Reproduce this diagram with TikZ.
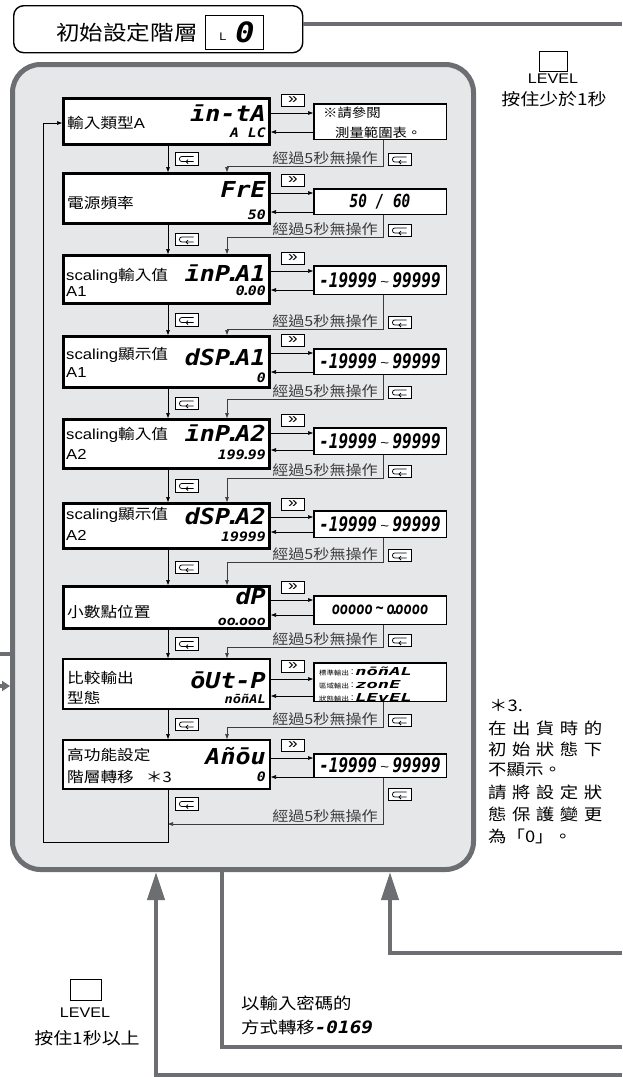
\documentclass[tikz,border=0pt]{standalone}
\usepackage{fontspec}
\usepackage{graphicx}
\setmainfont{Liberation Sans}[FakeStretch=1.15]
\newfontfamily\cjkf{Noto Sans CJK TC}[FakeStretch=1.15]
\newfontfamily\segf{DejaVu Sans Mono}[FakeStretch=1.14]
\newfontfamily\segn{DejaVu Sans Mono}[FakeStretch=0.8]
\usetikzlibrary{arrows.meta}
\definecolor{panelgray}{HTML}{E6E7E8}
\definecolor{dgray}{HTML}{6D6E71}
\definecolor{tgray}{HTML}{3C3C3C}
\newcommand\sg[2]{{\segf\bfseries\itshape\fontsize{#1}{#1}\selectfont #2}}
\newcommand\sgn[2]{{\segn\bfseries\itshape\fontsize{#1}{#1}\selectfont #2}}
\newcommand\cj[1]{{\cjkf #1}}
\newcommand\gp{\hspace{5.5pt}}
\newcommand\dt{\kern-0.22em.\kern-0.22em}
\begin{document}
\begin{tikzpicture}[x=1pt,y=-1pt,
  mainbox/.style={draw=black,fill=white,inner sep=0pt,anchor=north west},
  valbox/.style={draw=black,fill=white,line width=1.5pt,minimum width=132.5pt,inner sep=0pt,anchor=north west},
  keyf/.style={draw=black,fill=white,line width=0.8pt,minimum width=23pt,minimum height=12.5pt,inner sep=0pt,font=\fontsize{15}{12}\selectfont},
  conn/.style={line width=0.7pt,-{Triangle[length=5pt,width=3.6pt]}},
  tconn/.style={draw=tgray,line width=0.7pt,-{Triangle[length=5pt,width=3.6pt]}},
  gline/.style={draw=dgray,line width=4pt},
  garrow/.style={draw=dgray,line width=4pt,-{Triangle[length=28pt,width=17pt]}},
  lab/.style={anchor=west,inner sep=0pt,font=\fontsize{14.5}{14.5}\selectfont},
  big/.style={anchor=east,inner sep=0pt},
  tm/.style={anchor=east,inner sep=0pt,text=tgray,font=\cjkf\fontsize{14}{14}\selectfont},
  note/.style={anchor=west,inner sep=0pt,font=\cjkf\fontsize{16}{16}\selectfont},
  retkey/.pic={
    \node[keyf] (-box) at (0,0) {};
    \draw[line width=0.75pt] (7,-2.6) -- (-4.5,-2.6) arc[start angle=270,end angle=90,radius=2.6] -- (7,2.6);
    \draw[line width=0.75pt] (1.6,0.6) -- (-0.4,2.6) -- (1.6,4.6);
  }]
\useasboundingbox (0,0) rectangle (622,1077);

% ---------- main panel ----------
\node[draw=dgray,fill=panelgray,line width=5pt,rounded corners=28pt,minimum width=461pt,minimum height=805pt,anchor=north west,inner sep=0pt] (panel) at (10,62) {};

% ---------- header ----------
\node[draw=black,fill=white,line width=1.4pt,rounded corners=10pt,minimum width=289pt,minimum height=47pt,anchor=north west,inner sep=0pt] (hdr) at (13,5) {};
\node[anchor=west,inner sep=0pt,font=\cjkf\fontsize{20.5}{20.5}\selectfont] (hdrt) at (56,33) {初始設定階層};
\node[draw=black,line width=0.9pt,minimum width=58pt,minimum height=34pt,inner sep=0pt,anchor=north west] (hdrb) at (204.5,14.5) {};
\node[inner sep=0pt,font=\fontsize{11}{11}\selectfont] (hdrL) at (223,36.5) {L};
\node[inner sep=0pt] (hdr0) at (245,32.5) {\sg{28}{0}};
\coordinate (eTop) at (622,24);
\draw[gline] (hdr.east |- 0,24) -- (eTop);

% top right LEVEL
\node[draw=black,line width=0.9pt,minimum width=28pt,minimum height=20pt,inner sep=0pt,anchor=north west] (lvA) at (538.5,50.5) {};
\node[inner sep=0pt,font=\fontsize{14}{14}\selectfont] (lvAt) at (553,79) {LEVEL};
\node[inner sep=0pt,font=\cjkf\fontsize{16.5}{16.5}\selectfont] (lvAd) at (554,99) {按住少於1秒};

% ---------- main boxes ----------
\foreach \i/\t/\b/\w in {1/97/146/2.6,2/172/225/2.6,3/254/305/2.6,4/335/389/2.6,5/418/470/2.6,6/502/550/2.6,7/585/630/2.6,8/658/710/1.6,9/739/790/1.8}{
  \node[mainbox,line width=\w,minimum width={209-\w},minimum height={\b-\t-\w}] (b\i) at (62,\t) {};
}
% value boxes
\foreach \i/\t/\b in {1/103/140,2/188/215,3/265/295,4/348/375,5/427/455,6/510/538,7/595/625,8/662/702,9/753/778}{
  \node[valbox,minimum height={\b-\t-1.5}] (v\i) at (313,\t) {};
}
% right / left arrows and >> keys
\foreach \i/\r/\l in {1/113/132,2/193/212,3/271/290,4/353/372,5/433/450,6/517/532,7/600/615,8/679/696,9/758/777}{
  \draw[conn] (b\i.east |- 0,\r) -- (v\i.west |- 0,\r);
  \draw[conn] (v\i.west |- 0,\l) -- (b\i.east |- 0,\l);
  \node[keyf] (k\i) at (293,\r-12.5) {\raisebox{0.5pt}{»}};
}
% down arrows with return keys
\foreach \i/\j/\c in {1/2/159,2/3/239.5,3/4/320,4/5/403.5,5/6/486,6/7/567.5,7/8/644,8/9/724.5}{
  \draw[conn] (b\i.south -| 168,0) -- (b\j.north -| 168,0);
  \pic (rl\i) at (186.5,\c) {retkey};
}
% timeout returns
\foreach \i/\j/\h in {1/2/166,2/3/237,3/4/329,4/5/399,5/6/478,6/7/562,7/8/647,8/9/727}{
  \draw[tconn] (v\i.south -| 383,0) |- (227,\h) -- (b\j.north -| 227,0);
  \node[tm] (t\i) at (378,\h-7.5) {經過5秒無操作};
  \pic (rr\i) at (399.5,\h-6.5) {retkey};
}
\draw[tconn] (v9.south -| 383,0) |- (168,824);
\node[tm] (t9) at (378,816) {經過5秒無操作};
\pic (rr9) at (399.5,794.5) {retkey};
\pic (rl9) at (186.5,804) {retkey};
% loop back
\draw[conn] (b9.south -| 168,0) |- (43,842) |- (b1.west |- 0,123);

% ---------- labels ----------
\node[lab] (L1) at (67,123) {\cj{輸入類型}A};
\node[lab] (L2) at (67,203) {\cj{電源頻率}};
\node[lab] (L3a) at (66,276) {scaling\cj{輸入值}};
\node[lab] (L3b) at (66,292) {A1};
\node[lab] (L4a) at (66,355) {scaling\cj{顯示值}};
\node[lab] (L4b) at (66,373) {A1};
\node[lab] (L5a) at (66,435) {scaling\cj{輸入值}};
\node[lab] (L5b) at (66,454) {A2};
\node[lab] (L6a) at (66,515) {scaling\cj{顯示值}};
\node[lab] (L6b) at (66,535) {A2};
\node[lab] (L7) at (67,612) {\cj{小數點位置}};
\node[lab] (L8a) at (67,678) {\cj{比較輸出}};
\node[lab] (L8b) at (67,698) {\cj{型態}};
\node[lab] (L9a) at (67,755) {\cj{高功能設定}};
\node[lab] (L9b) at (67,777) {\cj{階層轉移}\hspace{12pt}\cj{＊3}};

% ---------- displays ----------
\node[big] (d1a) at (266,113) {\sg{22}{īn-tA}};
\node[big] (d1b) at (266,133) {\sg{13}{A LC}};
\node[big] (d2a) at (266,189) {\sg{22}{FrE}};
\node[big] (d2b) at (266,215) {\sg{13}{50}};
\node[big] (d3a) at (266,273) {\sg{22}{īnP\dt A1}};
\node[big] (d3b) at (266,291) {\sg{13}{0\dt 00}};
\node[big] (d4a) at (266,357) {\sg{22}{dSP\dt A1}};
\node[big] (d4b) at (266,378) {\sg{13}{0}};
\node[big] (d5a) at (266,433) {\sg{22}{īnP\dt A2}};
\node[big] (d5b) at (266,455) {\sg{13}{199\dt 99}};
\node[big] (d6a) at (266,516) {\sg{22}{dSP\dt A2}};
\node[big] (d6b) at (266,537) {\sg{13}{19999}};
\node[big] (d7a) at (266,596) {\sg{22}{dP}};
\node[big] (d7b) at (266,622) {\sg{13}{oo\dt ooo}};
\node[big] (d8a) at (266,680) {\sg{22}{ōUt-P}};
\node[big] (d8b) at (266,699) {\sg{12}{nōñAL}};
\node[big] (d9a) at (266,756) {\sg{22}{Añōu}};
\node[big] (d9b) at (266,777) {\sg{13}{0}};

% ---------- value box contents ----------
\node[anchor=west,inner sep=0pt,font=\cjkf\fontsize{12.5}{12.5}\selectfont] (w1a) at (323,113) {※請參閱};
\node[anchor=west,inner sep=0pt,font=\cjkf\fontsize{12.5}{12.5}\selectfont] (w1b) at (335,133) {測量範圍表。};
\node[inner sep=0pt] (w2) at (v2.center) {\sgn{18}{50 / 60}};
\foreach \i in {3,4,5,6,9}{
  \node[inner sep=0pt] (w\i) at (v\i.center) {\sgn{20}{-19999\,{\normalfont\fontsize{13}{13}\selectfont\raisebox{1pt}{\textasciitilde}}\,99999}};
}
\node[inner sep=0pt] (w7) at (v7.center) {\sgn{17}{ooooo\,\raisebox{1pt}{\textasciitilde}\,o\dt oooo}};
\node[anchor=west,inner sep=0pt] (w8a) at (319,671) {\cj{\fontsize{6.5}{6.5}\selectfont 標準輸出}\,\raisebox{0.5pt}{\fontsize{9}{9}\selectfont :}\,\scalebox{1.5}[1]{\sg{11}{nōñAL}}};
\node[anchor=west,inner sep=0pt] (w8b) at (319,684.5) {\cj{\fontsize{6.5}{6.5}\selectfont 區域輸出}\,\raisebox{0.5pt}{\fontsize{9}{9}\selectfont :}\,\scalebox{1.5}[1]{\sg{11}{zonE}}};
\node[anchor=west,inner sep=0pt] (w8c) at (319,697.5) {\cj{\fontsize{6.5}{6.5}\selectfont 狀態輸出}\,\raisebox{0.5pt}{\fontsize{9}{9}\selectfont :}\,\scalebox{1.5}[1]{\sg{11}{LEvEL}}};

% ---------- note ----------
\node[note] (n0) at (489,705) {＊3.};
\node[note] (n1) at (488,728) {在\gp 出\gp 貨\gp 時\gp 的};
\node[note] (n2) at (488,749) {初\gp 始\gp 狀\gp 態\gp 下};
\node[note] (n3) at (488,770) {不顯示。};
\node[note] (n4) at (488,792) {請\gp 將\gp 設\gp 定\gp 狀};
\node[note] (n5) at (488,814) {態\gp 保\gp 護\gp 變\gp 更};
\node[note] (n6) at (488,836) {為「0」。};

% ---------- outer connectors ----------
\coordinate (eA) at (622,1075);
\coordinate (eB) at (622,1047);
\coordinate (eC) at (622,953);
\draw[garrow] (eA) -| (panel.south -| 156,0);
\draw[gline] (panel.south -| 222,0) |- (eB);
\draw[garrow] (eC) -| (panel.south -| 390,0);
\coordinate (eL1) at (0,654);
\coordinate (eL2) at (0,686);
\draw[gline] (eL1) -- (panel.west |- eL1);
\draw[draw=dgray,line width=4pt,-{Triangle[length=8pt,width=10pt]}] (eL2) -- (panel.west |- eL2);

% bottom left LEVEL
\node[draw=black,line width=0.9pt,minimum width=31pt,minimum height=21pt,inner sep=0pt,anchor=north west] (lvB) at (69.5,978.5) {};
\node[inner sep=0pt,font=\fontsize{14}{14}\selectfont] (lvBt) at (85,1013) {LEVEL};
\node[inner sep=0pt,font=\cjkf\fontsize{16.5}{16.5}\selectfont] (lvBd) at (87,1038) {按住1秒以上};

% password text
\node[anchor=west,inner sep=0pt,font=\cjkf\fontsize{16}{16}\selectfont] (pw1) at (241,1003) {以輸入密碼的};
\node[anchor=west,inner sep=0pt,font=\cjkf\fontsize{16}{16}\selectfont] (pw2) at (241,1027) {方式轉移\sg{17}{-0169}};
\end{tikzpicture}
\end{document}
